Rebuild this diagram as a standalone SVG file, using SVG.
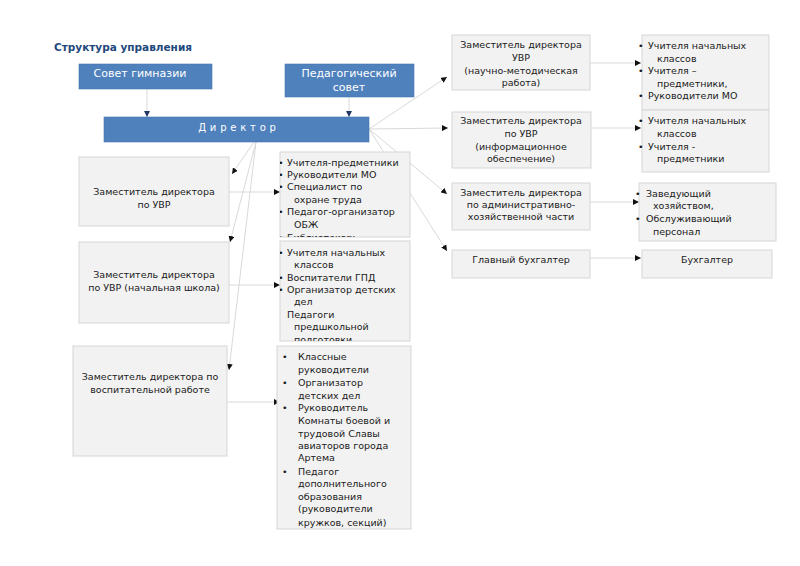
<svg xmlns="http://www.w3.org/2000/svg" width="800" height="566" viewBox="0 0 800 566">
<style>
text{font-family:"DejaVu Sans","Noto Sans",sans-serif;}
.t{font-size:9.5px;fill:#1a1a1a;}
.c{text-anchor:middle;}
.bw{font-size:11px;fill:#ffffff;}
.blue{fill:#4f81bd;stroke:#4a76ad;stroke-width:0.6;}
.gray{fill:#f2f2f2;stroke:#d6d6d6;stroke-width:1;}
.ln{stroke:#d9d9d9;stroke-width:1;fill:none;marker-end:url(#ah);}
.lnb{stroke:#d9d9d9;stroke-width:1;fill:none;marker-end:url(#ahb);}
</style>
<defs>
<marker id="ah" markerUnits="userSpaceOnUse" markerWidth="6" markerHeight="6" refX="6" refY="3" orient="auto"><path d="M0,0 L6,3 L0,6 z" fill="#111"/></marker>
<marker id="ahb" markerUnits="userSpaceOnUse" markerWidth="6" markerHeight="6" refX="6" refY="3" orient="auto"><path d="M0,0 L6,3 L0,6 z" fill="#1f3864"/></marker>
<clipPath id="cm1"><rect x="280" y="152" width="130" height="85"/></clipPath>
<clipPath id="cm2"><rect x="280" y="241" width="130" height="100"/></clipPath>
</defs>
<rect width="800" height="566" fill="#ffffff"/>
<text x="54" y="51" style="font-size:10.5px;font-weight:bold;fill:#1f497d">Структура управления</text>

<g id="connectors">
<line class="lnb" x1="147" y1="89" x2="147" y2="117"/>
<line class="lnb" x1="349" y1="97" x2="349" y2="117"/>
<line class="ln" x1="254" y1="142" x2="232" y2="174"/>
<line class="ln" x1="256" y1="142" x2="230" y2="242"/>
<line class="ln" x1="256" y1="142" x2="229" y2="370"/>
<line class="ln" x1="369" y1="129" x2="447" y2="77"/>
<line class="ln" x1="369" y1="129" x2="448" y2="128"/>
<line class="ln" x1="369" y1="129" x2="447" y2="194"/>
<line class="ln" x1="369" y1="129" x2="447" y2="251"/>
<line class="ln" x1="229" y1="192" x2="280" y2="192"/>
<line class="ln" x1="229" y1="285" x2="280" y2="285"/>
<line class="ln" x1="227" y1="402" x2="280" y2="402"/>
<line class="ln" x1="590" y1="63" x2="641" y2="63"/>
<line class="ln" x1="591" y1="128" x2="641" y2="128"/>
<line class="ln" x1="590" y1="202" x2="639" y2="202"/>
<line class="ln" x1="590" y1="258" x2="641" y2="258"/>
</g>

<g id="sovet">
<rect class="blue" x="79" y="64" width="133" height="25"/>
<text class="bw c" x="140" y="77">Совет гимназии</text>
</g>
<g id="pedsovet">
<rect class="blue" x="285" y="64" width="129" height="33"/>
<text class="bw c" x="349" y="77">Педагогический</text>
<text class="bw c" x="349" y="91">совет</text>
</g>
<g id="director">
<rect class="blue" x="104" y="117" width="265" height="25"/>
<text class="c" x="239" y="131" style="font-size:10px;fill:#ffffff;letter-spacing:3.8px">Директор</text>
</g>

<g id="zam-uvr-nm">
<rect class="gray" x="452" y="35" width="138" height="55"/>
<text class="t c" x="521" y="48">Заместитель директора</text>
<text class="t c" x="521" y="61">УВР</text>
<text class="t c" x="521" y="74">(научно-методическая</text>
<text class="t c" x="521" y="86">работа)</text>
</g>
<g id="zam-uvr-info">
<rect class="gray" x="452" y="112" width="139" height="56"/>
<text class="t c" x="521" y="124">Заместитель директора</text>
<text class="t c" x="521" y="137">по УВР</text>
<text class="t c" x="521" y="150">(информационное</text>
<text class="t c" x="521" y="162">обеспечение)</text>
</g>
<g id="zam-ahch">
<rect class="gray" x="452" y="183" width="138" height="47"/>
<text class="t c" x="521" y="196">Заместитель директора</text>
<text class="t c" x="521" y="208">по административно-</text>
<text class="t c" x="521" y="220">хозяйственной части</text>
</g>
<g id="glavbuh">
<rect class="gray" x="452" y="250" width="138" height="28"/>
<text class="t c" x="521" y="263">Главный бухгалтер</text>
</g>

<g id="list-nm">
<rect class="gray" x="642" y="35" width="127" height="75"/>
<text class="t" x="638" y="49">•</text><text class="t" x="648" y="49">Учителя начальных</text>
<text class="t" x="657" y="62">классов</text>
<text class="t" x="638" y="74">•</text><text class="t" x="648" y="74">Учителя –</text>
<text class="t" x="657" y="87">предметники,</text>
<text class="t" x="638" y="99">•</text><text class="t" x="648" y="99">Руководители МО</text>
</g>
<g id="list-info">
<rect class="gray" x="642" y="110" width="127" height="62"/>
<text class="t" x="638" y="124">•</text><text class="t" x="648" y="124">Учителя начальных</text>
<text class="t" x="657" y="137">классов</text>
<text class="t" x="638" y="150">•</text><text class="t" x="648" y="150">Учителя -</text>
<text class="t" x="657" y="162">предметники</text>
</g>
<g id="list-ahch">
<rect class="gray" x="639" y="183" width="137" height="58"/>
<text class="t" x="635" y="197">•</text><text class="t" x="646" y="197">Заведующий</text>
<text class="t" x="653" y="209">хозяйством,</text>
<text class="t" x="635" y="222">•</text><text class="t" x="646" y="222">Обслуживающий</text>
<text class="t" x="653" y="235">персонал</text>
</g>
<g id="buh">
<rect class="gray" x="642" y="250" width="130" height="28"/>
<text class="t c" x="707" y="263">Бухгалтер</text>
</g>

<g id="zam-uvr">
<rect class="gray" x="79" y="157" width="150" height="69"/>
<text class="t c" x="154" y="195">Заместитель директора</text>
<text class="t c" x="154" y="208">по УВР</text>
</g>
<g id="zam-uvr-nsh">
<rect class="gray" x="79" y="242" width="150" height="81"/>
<text class="t c" x="154" y="278">Заместитель директора</text>
<text class="t c" x="154" y="291">по УВР (начальная школа)</text>
</g>
<g id="zam-vr">
<rect class="gray" x="73" y="346" width="154" height="110"/>
<text class="t c" x="150" y="380">Заместитель директора по</text>
<text class="t c" x="150" y="393">воспитательной работе</text>
</g>

<g id="list-uvr">
<rect class="gray" x="280" y="152" width="130" height="85"/>
<g clip-path="url(#cm1)">
<text class="t" x="278" y="166">•</text><text class="t" x="287" y="166">Учителя-предметники</text>
<text class="t" x="278" y="178">•</text><text class="t" x="287" y="178">Руководители МО</text>
<text class="t" x="278" y="190">•</text><text class="t" x="287" y="190">Специалист  по</text>
<text class="t" x="294" y="203">охране труда</text>
<text class="t" x="278" y="215">•</text><text class="t" x="287" y="215">Педагог-организатор</text>
<text class="t" x="294" y="228">ОБЖ</text>
<text class="t" x="278" y="241">•</text><text class="t" x="287" y="241">Библиотекарь</text>
</g>
</g>
<g id="list-nsh">
<rect class="gray" x="280" y="241" width="130" height="100"/>
<g clip-path="url(#cm2)">
<text class="t" x="278" y="256">•</text><text class="t" x="287" y="256">Учителя начальных</text>
<text class="t" x="294" y="268">классов</text>
<text class="t" x="278" y="281">•</text><text class="t" x="287" y="281">Воспитатели ГПД</text>
<text class="t" x="278" y="293">•</text><text class="t" x="287" y="293">Организатор детских</text>
<text class="t" x="294" y="305">дел</text>
<text class="t" x="287" y="318">Педагоги</text>
<text class="t" x="294" y="330">предшкольной</text>
<text class="t" x="294" y="343">подготовки</text>
</g>
</g>
<g id="list-vr">
<rect class="gray" x="277" y="346" width="134" height="183"/>
<text class="t" x="282" y="360">•</text><text class="t" x="298" y="360">Классные</text>
<text class="t" x="298" y="373">руководители</text>
<text class="t" x="282" y="386">•</text><text class="t" x="298" y="386">Организатор</text>
<text class="t" x="298" y="399">детских дел</text>
<text class="t" x="282" y="411">•</text><text class="t" x="298" y="411">Руководитель</text>
<text class="t" x="298" y="424">Комнаты боевой  и</text>
<text class="t" x="298" y="437">трудовой Славы</text>
<text class="t" x="298" y="449">авиаторов города</text>
<text class="t" x="298" y="461">Артема</text>
<text class="t" x="282" y="475">•</text><text class="t" x="298" y="475">Педагог</text>
<text class="t" x="298" y="487">дополнительного</text>
<text class="t" x="298" y="500">образования</text>
<text class="t" x="298" y="512">(руководители</text>
<text class="t" x="298" y="526">кружков, секций)</text>
</g>
</svg>
